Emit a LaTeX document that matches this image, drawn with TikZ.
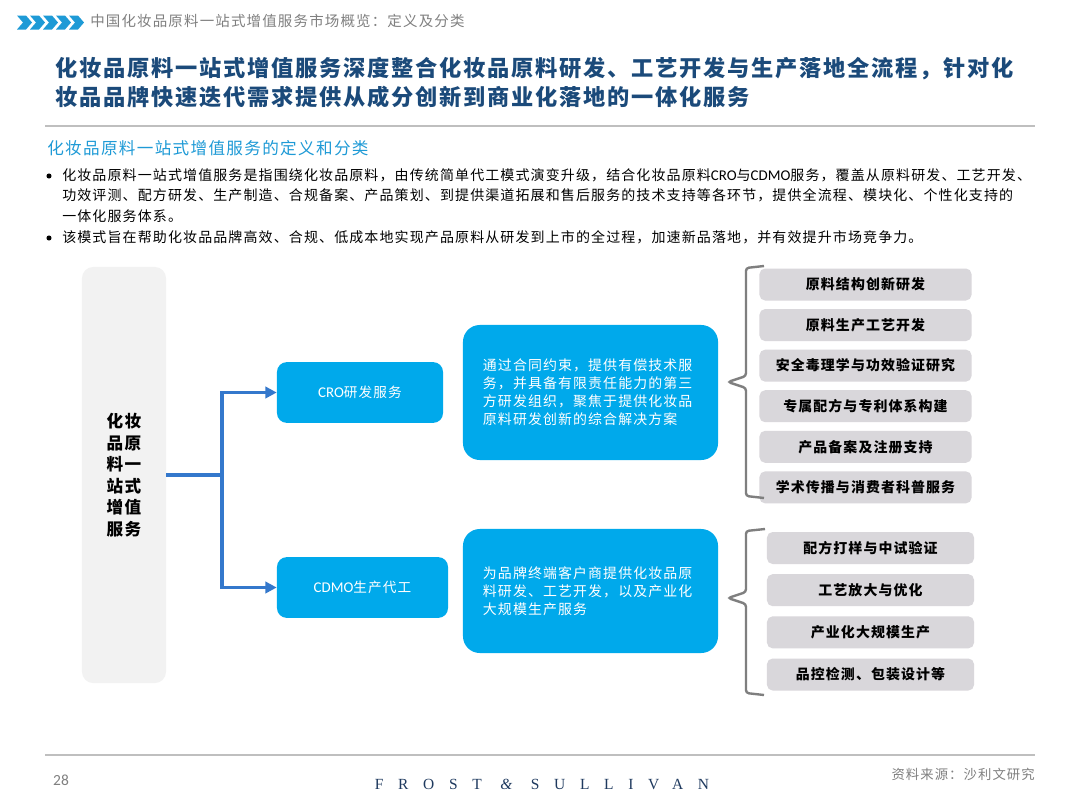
\documentclass[tikz,border=0pt]{standalone}
\usepackage{fontspec}
\setmainfont{Noto Sans CJK SC}[LetterSpace=8]
\newfontfamily\latinfont{Carlito}
\newfontfamily\brandfont{Liberation Serif}[LetterSpace=95]
\usetikzlibrary{positioning,arrows.meta}
\definecolor{titleblue}{HTML}{1B4A7A}
\definecolor{skyblue}{HTML}{1E9AD6}
\definecolor{boxblue}{HTML}{00A9EB}
\definecolor{linkblue}{HTML}{3478CC}
\definecolor{itemgray}{HTML}{D9D7DB}
\definecolor{panelgray}{HTML}{F2F2F2}
\definecolor{bracegray}{HTML}{7F7F7F}
\definecolor{rulegray}{HTML}{BFBFBF}
\definecolor{headgray}{HTML}{808080}
\definecolor{brandnavy}{HTML}{1F3A5F}

\begin{document}
\begin{tikzpicture}[x=0.025cm,y=-0.025cm,
  panel/.style={rectangle,rounded corners=8pt,fill=panelgray,align=center,minimum width=2.1cm,minimum height=10.4cm,font=\bfseries\fontsize{11.8}{15.3}\selectfont},
  svc/.style={rectangle,rounded corners=7pt,fill=boxblue,text=white,minimum height=1.52cm,font=\fontsize{9.7}{12}\selectfont},
  desc/.style={rectangle,rounded corners=12pt,fill=boxblue,text=white,align=left,text width=5.375cm,inner xsep=0.5cm,font=\fontsize{9.9}{12.8}\selectfont},
  item/.style={rectangle,rounded corners=4pt,fill=itemgray,minimum height=0.8cm,font=\bfseries\fontsize{9.9}{12}\selectfont},
  txt/.style={inner sep=0},
  dot/.style={circle,fill=black,inner sep=0,minimum size=3.6pt},
  arr/.style={-{Triangle[length=2.8mm,width=2.8mm]},line width=2.5pt,draw=linkblue},
  brace/.style={draw=bracegray,line width=1.7pt,rounded corners=2pt},
  rule/.style={draw=rulegray,line width=2pt}
]
\useasboundingbox (0,0) rectangle (1080,810);
\fill[white] (0,0) rectangle (1080,810);

% header
\foreach \i in {0,...,4}
  \fill[skyblue] (17+13*\i,15.5) -- ++(9,0) -- ++(6,7) -- ++(-6,7) -- ++(-9,0) -- ++(6,-7) -- cycle;
\node[txt,anchor=west,text=headgray,font=\fontsize{10.3}{12}\selectfont] (header) at (90,21) {中国化妆品原料一站式增值服务市场概览：定义及分类};
\node[txt,anchor=north west,align=left,text=titleblue,font=\bfseries\fontsize{15.8}{20.6}\selectfont] (title) at (55,57) {化妆品原料一站式增值服务深度整合化妆品原料研发、工艺开发与生产落地全流程，针对化\\妆品品牌快速迭代需求提供从成分创新到商业化落地的一体化服务};
\draw[rule] (45,126) -- (1035,126);

% definition
\node[txt,anchor=west,text=skyblue,font=\fontsize{11.8}{14}\selectfont] (subtitle) at (47,148) {化妆品原料一站式增值服务的定义和分类};
\node[dot] (dot1) at (49,176) {};
\node[txt,anchor=north west,align=left,font=\fontsize{9.95}{14.6}\selectfont] (bul1) at (62,168) {化妆品原料一站式增值服务是指围绕化妆品原料，由传统简单代工模式演变升级，结合化妆品原料{\latinfont\fontsize{10.6}{14.6}\selectfont CRO}与{\latinfont\fontsize{10.6}{14.6}\selectfont CDMO}服务，覆盖从原料研发、工艺开发、\\功效评测、配方研发、生产制造、合规备案、产品策划、到提供渠道拓展和售后服务的技术支持等各环节，提供全流程、模块化、个性化支持的\\一体化服务体系。};
\node[dot] (dot2) at (49,238) {};
\node[txt,anchor=west,font=\fontsize{9.95}{14.6}\selectfont] (bul2) at (62,237) {该模式旨在帮助化妆品品牌高效、合规、低成本地实现产品原料从研发到上市的全过程，加速新品落地，并有效提升市场竞争力。};

% diagram
\node[panel] (root) at (124,475) {化妆\\品原\\料一\\站式\\增值\\服务};
\node[svc,minimum width=4.15cm] (cro) at (360,392.5) {{\latinfont\fontsize{10.6}{12}\selectfont CRO}研发服务};
\node[svc,minimum width=4.275cm] (cdmo) at (362.5,587.5) {{\latinfont\fontsize{10.6}{12}\selectfont CDMO}生产代工};
\node[desc,minimum height=3.375cm] (crodesc) at (590.5,392.5) {通过合同约束，提供有偿技术服\\务，并具备有限责任能力的第三\\方研发组织，聚焦于提供化妆品\\原料研发创新的综合解决方案};
\node[desc,minimum height=3.1cm] (cdmodesc) at (590.5,591) {为品牌终端客户商提供化妆品原\\料研发、工艺开发，以及产业化\\大规模生产服务};

\coordinate (fork) at (222,475);
\draw[line width=2.5pt,draw=linkblue] (root.east) -- (fork);
\draw[arr] (fork) |- (cro.west);
\draw[arr] (fork) |- (cdmo.west);

\node[item,minimum width=5.3cm] (r1) at (865.5,284.5) {原料结构创新研发};
\node[item,minimum width=5.3cm,below=0.2cm of r1] (r2) {原料生产工艺开发};
\node[item,minimum width=5.3cm,below=0.2cm of r2] (r3) {安全毒理学与功效验证研究};
\node[item,minimum width=5.3cm,below=0.2cm of r3] (r4) {专属配方与专利体系构建};
\node[item,minimum width=5.3cm,below=0.2cm of r4] (r5) {产品备案及注册支持};
\node[item,minimum width=5.3cm,below=0.2cm of r5] (r6) {学术传播与消费者科普服务};

\node[item,minimum width=5.175cm] (p1) at (870.5,548) {配方打样与中试验证};
\node[item,minimum width=5.175cm,below=0.24cm of p1] (p2) {工艺放大与优化};
\node[item,minimum width=5.175cm,below=0.24cm of p2] (p3) {产业化大规模生产};
\node[item,minimum width=5.175cm,below=0.24cm of p3] (p4) {品控检测、包装设计等};

\draw[brace] (764,266) -- (746,268) -- (746,376) -- (728,382) -- (746,388) -- (746,496) -- (764,498);
\draw[brace] (765,529) -- (746,531) -- (746,592) -- (728,598) -- (746,604) -- (746,693) -- (764,695);

% footer
\draw[rule] (45,755) -- (1035,755);
\node[txt,text=headgray,font=\latinfont\fontsize{11}{12}\selectfont] (page) at (61,780) {28};
\node[txt,text=brandnavy] (brand) at (542,784) {\brandfont\fontsize{11}{12}\selectfont FROST {\itshape\&} SULLIVAN};
\node[txt,anchor=east,text=headgray,font=\fontsize{9.5}{12}\selectfont] (source) at (1035,774) {资料来源：沙利文研究};
\end{tikzpicture}
\end{document}
